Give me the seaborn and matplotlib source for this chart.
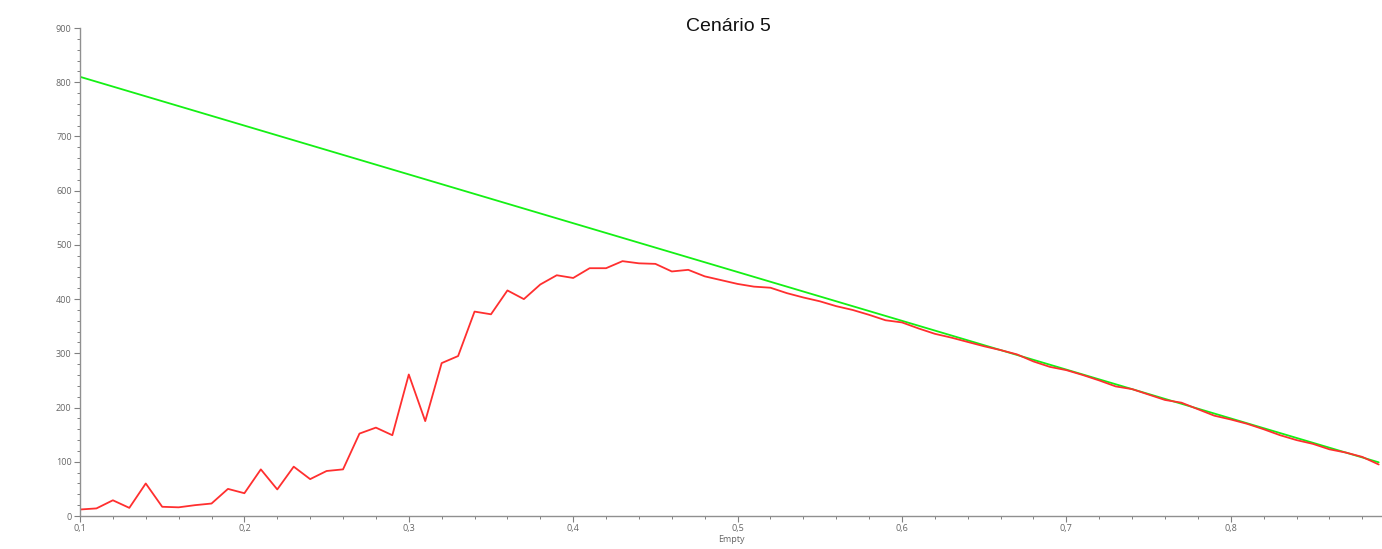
import matplotlib
matplotlib.use("Agg")
import matplotlib.pyplot as plt
import matplotlib.ticker as mticker
import seaborn as sns
import pandas as pd

x_values = [0.10, 0.11, 0.12, 0.13, 0.14, 0.15, 0.16, 0.17, 0.18, 0.19,
            0.20, 0.21, 0.22, 0.23, 0.24, 0.25, 0.26, 0.27, 0.28, 0.29,
            0.30, 0.31, 0.32, 0.33, 0.34, 0.35, 0.36, 0.37, 0.38, 0.39,
            0.40, 0.41, 0.42, 0.43, 0.44, 0.45, 0.46, 0.47, 0.48, 0.49,
            0.50, 0.51, 0.52, 0.53, 0.54, 0.55, 0.56, 0.57, 0.58, 0.59,
            0.60, 0.61, 0.62, 0.63, 0.64, 0.65, 0.66, 0.67, 0.68, 0.69,
            0.70, 0.71, 0.72, 0.73, 0.74, 0.75, 0.76, 0.77, 0.78, 0.79,
            0.80, 0.81, 0.82, 0.83, 0.84, 0.85, 0.86, 0.87, 0.88, 0.89]

green_values = [810, 801, 792, 783, 774, 765, 756, 747, 738, 729,
                720, 711, 702, 693, 684, 675, 666, 657, 648, 639,
                630, 621, 612, 603, 594, 585, 576, 567, 558, 549,
                540, 531, 522, 513, 504, 495, 486, 477, 468, 459,
                450, 441, 432, 423, 414, 405, 396, 387, 378, 369,
                360, 351, 342, 333, 324, 315, 306, 297, 288, 279,
                270, 261, 252, 243, 234, 225, 216, 207, 198, 189,
                180, 171, 162, 153, 144, 135, 126, 117, 108, 99]

red_values = [12, 14, 29, 15, 60, 17, 16, 20, 23, 50,
              42, 86, 49, 91, 68, 83, 86, 152, 163, 149,
              261, 175, 282, 295, 377, 372, 416, 400, 427, 444,
              439, 457, 457, 470, 466, 465, 451, 454, 442, 435,
              428, 423, 421, 411, 403, 396, 387, 380, 371, 361,
              357, 346, 336, 329, 321, 313, 306, 298, 285, 275,
              269, 260, 250, 239, 234, 224, 214, 209, 197, 185,
              178, 170, 160, 149, 140, 133, 123, 117, 109, 95]

x_ticks = [0.1, 0.2, 0.3, 0.4, 0.5, 0.6, 0.7, 0.8]
y_ticks = [0, 100, 200, 300, 400, 500, 600, 700, 800, 900]

df = pd.DataFrame({
    "x": x_values * 2,
    "y": green_values + red_values,
    "serie": ["verde"] * len(x_values) + ["vermelho"] * len(x_values),
})

sns.set_style("white")
plt.rcParams["font.family"] = ["Open Sans", "DejaVu Sans"]

fig = plt.figure(figsize=(13.82, 5.49), dpi=100)
ax = fig.add_axes([80 / 1382, 33 / 549, 1 - 80 / 1382, 488 / 549])

sns.lineplot(data=df, x="x", y="y", hue="serie",
             palette={"verde": "#14f014", "vermelho": "#ff2f2f"},
             linewidth=1.3, legend=False, ax=ax, clip_on=True)

ax.set_xlim(0.1, 0.892)
ax.set_ylim(0, 900)
ax.set_xticks(x_ticks)
ax.set_yticks(y_ticks)
ax.xaxis.set_minor_locator(mticker.MultipleLocator(0.02))
ax.yaxis.set_minor_locator(mticker.MultipleLocator(20))
ax.set_xticklabels([f"{t:.1f}".replace(".", ",") for t in x_ticks])
ax.set_yticklabels([str(t) for t in y_ticks])

ax.tick_params(axis="both", which="major", direction="out", length=4,
               width=0.8, color="#808080", labelsize=6.5, labelcolor="#666666",
               pad=2, bottom=True, left=True)
ax.tick_params(axis="both", which="minor", direction="out", length=2.5,
               width=0.7, color="#808080", bottom=True, left=True)

for s in ["top", "right"]:
    ax.spines[s].set_visible(False)
for s in ["left", "bottom"]:
    ax.spines[s].set_color("#909090")
    ax.spines[s].set_linewidth(1.0)

ax.set_xlabel("Empty", fontsize=6.5, color="#666666", labelpad=1)
ax.set_ylabel("")
ax.set_title("Cenário 5", fontsize=14, family=["Liberation Sans", "DejaVu Sans"],
             color="#111111", pad=-2, y=1.0, x=0.498)

fig.savefig("out.png", dpi=100)
